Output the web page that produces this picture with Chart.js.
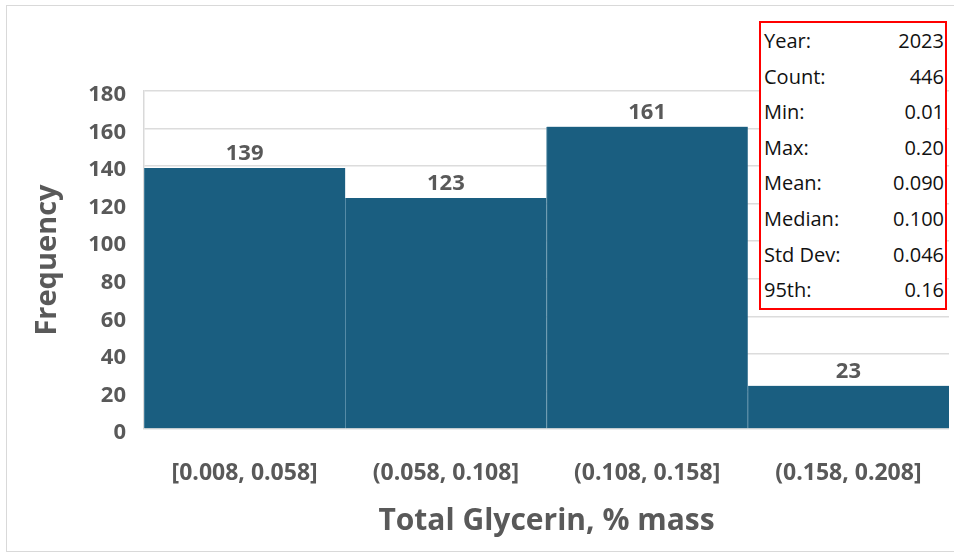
<!DOCTYPE html>
<html>
<head>
<meta charset="utf-8">
<script src="https://cdn.jsdelivr.net/npm/chart.js@4.4.1/dist/chart.umd.min.js"></script>
<style>
  html, body { margin: 0; padding: 0; background: #fff; }
  #wrap { position: relative; width: 954px; height: 555px; overflow: hidden; }
  #frame { position: absolute; left: 6px; top: 5px; width: 960px; height: 545px; border: 1px solid #d9d9d9; pointer-events: none; }
  #stats { position: absolute; left: 759px; top: 21px; width: 184px; border: 2px solid #ff0000; background: #fff;
           font-family: "Open Sans", sans-serif; font-size: 20px; color: #111; }
  #stats .row { display: flex; justify-content: space-between; height: 35.6px; line-height: 35.6px; padding: 0 1px 0 3px; }
</style>
</head>
<body>
<div id="wrap">
  <canvas id="chart" width="954" height="555"></canvas>
  <div id="frame"></div>
  <div id="stats"></div>
</div>
<script>
// Dados do histograma
const bins = ['[0.008, 0.058]', '(0.058, 0.108]', '(0.108, 0.158]', '(0.158, 0.208]'];
const counts = [139, 123, 161, 23];
const yTicks = [0, 20, 40, 60, 80, 100, 120, 140, 160, 180];

// Caixa de estatísticas
const statLabels = ['Year:', 'Count:', 'Min:', 'Max:', 'Mean:', 'Median:', 'Std Dev:', '95th:'];
const statValues = ['2023', '446', '0.01', '0.20', '0.090', '0.100', '0.046', '0.16'];

const gray = '#595959';

const statsBox = document.getElementById('stats');
statLabels.forEach((label, i) => {
    const row = document.createElement('div');
    row.className = 'row';
    row.innerHTML = '<span>' + label + '</span><span>' + statValues[i] + '</span>';
    statsBox.appendChild(row);
});

// Rótulos em cima das barras
const barLabels = {
    id: 'barLabels',
    afterDatasetsDraw(chart) {
        const ctx = chart.ctx;
        const meta = chart.getDatasetMeta(0);
        ctx.save();
        ctx.font = 'bold 22px "Open Sans"';
        ctx.fillStyle = gray;
        ctx.textAlign = 'center';
        ctx.textBaseline = 'middle';
        meta.data.forEach((bar, i) => {
            ctx.fillText(counts[i], bar.x, bar.y - 14);
        });
        ctx.restore();
    }
};

new Chart(document.getElementById('chart'), {
    type: 'bar',
    data: {
        labels: bins,
        datasets: [{
            data: counts,
            backgroundColor: '#1a5e80',
            borderColor: '#5b8fa9',
            borderWidth: { left: 1, right: 0, top: 0, bottom: 0 },
            borderSkipped: false,
            barPercentage: 1,
            categoryPercentage: 1
        }]
    },
    options: {
        responsive: false,
        animation: false,
        layout: { padding: { top: 91, right: 5, left: 0, bottom: 0 } },
        plugins: { legend: { display: false }, tooltip: { enabled: false } },
        scales: {
            x: {
                grid: { display: false },
                border: { display: false },
                ticks: { color: gray, font: { family: 'Open Sans', size: 23, weight: 'bold' }, padding: 23, maxRotation: 0 },
                title: { display: true, text: 'Total Glycerin, % mass', color: gray,
                         font: { family: 'Open Sans', size: 30, weight: 'bold' }, padding: { top: 0, bottom: 16 } },
                afterFit(scale) { scale.height = 126; }
            },
            y: {
                min: 0,
                max: 180,
                afterBuildTicks(scale) { scale.ticks = yTicks.map(v => ({ value: v })); },
                grid: { color: '#dcdcdc', lineWidth: 1.5, drawTicks: false },
                border: { display: true, color: '#d9d9d9', width: 1.5 },
                ticks: { color: gray, font: { family: 'Open Sans', size: 22, weight: 'bold' }, padding: 18, labelOffset: 4 },
                title: { display: true, text: 'Frequency', color: gray,
                         font: { family: 'Open Sans', size: 29, weight: 'bold' }, padding: { top: 30, bottom: 0 } },
                afterFit(scale) { scale.width = 144; }
            }
        }
    },
    plugins: [barLabels]
});
</script>
</body>
</html>
